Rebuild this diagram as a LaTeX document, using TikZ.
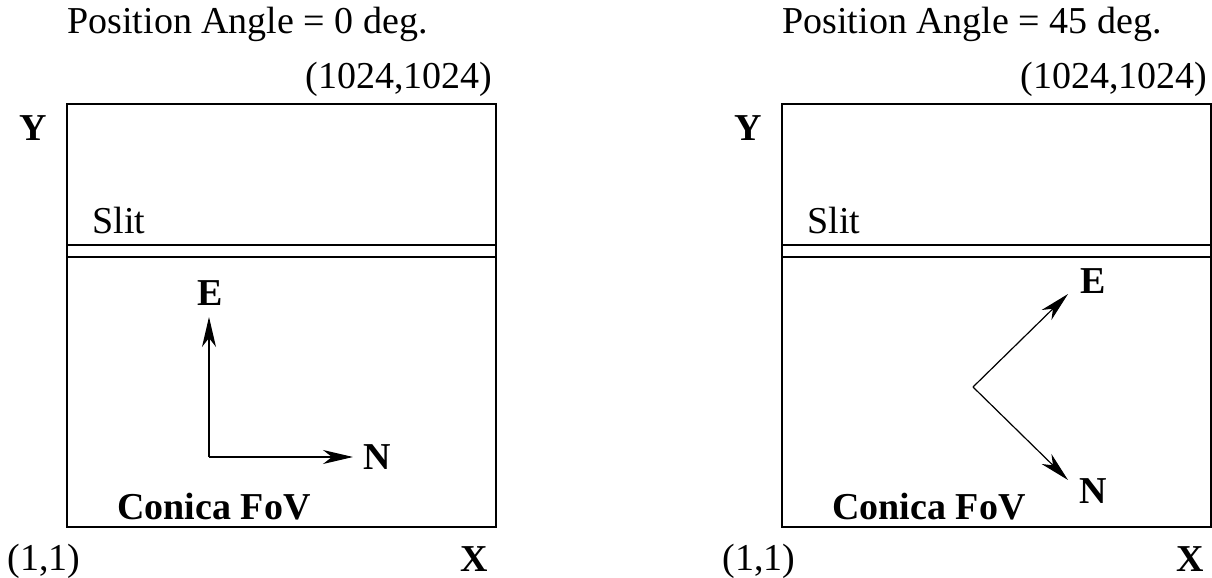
\documentclass[tikz,border=0pt]{standalone}
\usepackage{fontspec}
\setmainfont{Liberation Serif}
\usetikzlibrary{arrows.meta}

\tikzset{
  lbl/.style={inner sep=0pt, font=\fontsize{19}{22}\selectfont},
  blbl/.style={lbl, font=\fontsize{19}{22}\selectfont\bfseries},
  fovbox/.style={line width=0.75pt},
  pa/.style={line width=0.6pt, -{Stealth[length=15pt, width=7pt, inset=4.5pt]}}
}

\begin{document}
\begin{tikzpicture}[x=0.5pt, y=-0.5pt]
    \useasboundingbox (0,0) rectangle (1212,578);

    % position angle 0
    \node[lbl, anchor=base west] (titleL) at (67,33) {Position Angle = 0 deg.};
    \node[lbl, anchor=base east] (topL) at (493,89) {(1024,1024)};
    \node[blbl, anchor=base] (yL) at (33,140) {Y};
    \coordinate (blL) at (67,527);
    \coordinate (trL) at (496,104);
    \draw[fovbox] (blL) rectangle (trL);
    \draw[fovbox] (blL |- 0,245) -- (trL |- 0,245);
    \draw[fovbox] (blL |- 0,257) -- (trL |- 0,257);
    \node[lbl, anchor=base west] (slitL) at (92,233) {Slit};
    \coordinate (oL) at (209,457);
    \coordinate (eTipL) at (209,317);
    \coordinate (nTipL) at (353,457);
    \draw[pa] (oL) -- (eTipL);
    \draw[pa] (oL) -- (nTipL);
    \node[blbl, anchor=base] (eL) at (210,305) {E};
    \node[blbl, anchor=base] (nL) at (377,469) {N};
    \node[blbl, anchor=base west] (fovL) at (117,519) {Conica FoV};
    \node[lbl, anchor=base west] (oneL) at (7,570) {(1,1)};
    \node[blbl, anchor=base] (xL) at (474,571) {X};

    % position angle 45
    \node[lbl, anchor=base west] (titleR) at (782,33) {Position Angle = 45 deg.};
    \node[lbl, anchor=base east] (topR) at (1208,89) {(1024,1024)};
    \node[blbl, anchor=base] (yR) at (748,140) {Y};
    \coordinate (blR) at (782,527);
    \coordinate (trR) at (1211,104);
    \draw[fovbox] (blR) rectangle (trR);
    \draw[fovbox] (blR |- 0,245) -- (trR |- 0,245);
    \draw[fovbox] (blR |- 0,257) -- (trR |- 0,257);
    \node[lbl, anchor=base west] (slitR) at (807,233) {Slit};
    \coordinate (oR) at (973,387);
    \coordinate (eTipR) at (1068,294);
    \coordinate (nTipR) at (1068,480);
    \draw[pa] (oR) -- (eTipR);
    \draw[pa] (oR) -- (nTipR);
    \node[blbl, anchor=base] (eR) at (1093,293) {E};
    \node[blbl, anchor=base] (nR) at (1093,503) {N};
    \node[blbl, anchor=base west] (fovR) at (832,519) {Conica FoV};
    \node[lbl, anchor=base west] (oneR) at (722,570) {(1,1)};
    \node[blbl, anchor=base] (xR) at (1190,571) {X};
\end{tikzpicture}
\end{document}
